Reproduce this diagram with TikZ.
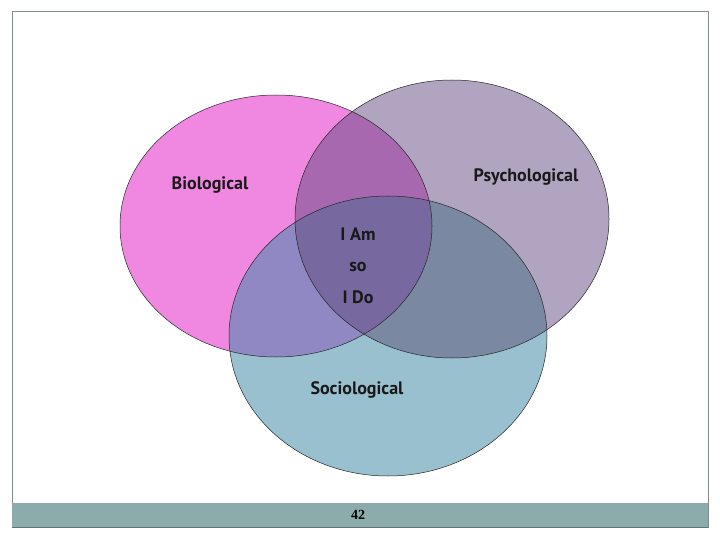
\documentclass[tikz,border=0pt]{standalone}
\usepackage{fontspec}
\setmainfont{PT Sans}
\newfontfamily\numfont{Liberation Serif}
\usetikzlibrary{positioning}
\definecolor{bioC}{RGB}{240,136,226}
\definecolor{psyC}{RGB}{176,164,192}
\definecolor{socC}{RGB}{152,192,206}
\definecolor{bpC}{RGB}{168,104,176}
\definecolor{bsC}{RGB}{144,136,194}
\definecolor{psC}{RGB}{122,136,162}
\definecolor{allC}{RGB}{120,104,160}
\definecolor{frameC}{RGB}{128,142,142}
\definecolor{barC}{RGB}{140,172,172}
\tikzset{
  ring/.style={draw=black!85, line width=0.5pt},
  lbl/.style={font=\bfseries\fontsize{18}{20}\selectfont, text=black!90, inner sep=1pt},
}
\def\bioPath{(276,226) ellipse [x radius=156pt, y radius=131pt]}
\def\psyPath{(452,219) ellipse [x radius=157pt, y radius=139pt]}
\def\socPath{(388,336) ellipse [x radius=159pt, y radius=140pt]}

\begin{document}
\begin{tikzpicture}[x=1pt, y=-1pt]
    \useasboundingbox (0,0) rectangle (720,540);
    \fill[white] (0,0) rectangle (720,540);
    % frame and footer bar
    \draw[frameC, line width=1pt] (12,528) -- (12,12) -- (708,12) -- (708,528);
    \fill[barC] (12,503) rectangle (708,527);
    \draw[frameC!80!black, line width=0.8pt] (12,527) -- (708,527);
    % circles
    \fill[bioC] \bioPath;
    \fill[psyC] \psyPath;
    \fill[socC] \socPath;
    \begin{scope}
      \clip \bioPath;
      \fill[bpC] \psyPath;
      \fill[bsC] \socPath;
      \clip \psyPath;
      \fill[allC] \socPath;
    \end{scope}
    \begin{scope}
      \clip \psyPath;
      \clip \socPath;
      \fill[psC] (0,0) rectangle (720,540);
      \clip \bioPath;
      \fill[allC] (0,0) rectangle (720,540);
    \end{scope}
    \draw[ring] \bioPath;
    \draw[ring] \psyPath;
    \draw[ring] \socPath;
    % labels
    \node[lbl] (bio) at (210,185) {Biological};
    \node[lbl] (psy) at (526,177) {Psychological};
    \node[lbl] (soc) at (357,390) {Sociological};
    \node[lbl] (iam) at (358,234) {I Am};
    \node[lbl, below=33pt of iam.center, anchor=center] (so) {so};
    \node[lbl, below=30pt of so.center, anchor=center] (ido) {I Do};
    \node[font={\numfont\bfseries\fontsize{14}{16}\selectfont}] (page) at (358,515) {42};
\end{tikzpicture}
\end{document}
